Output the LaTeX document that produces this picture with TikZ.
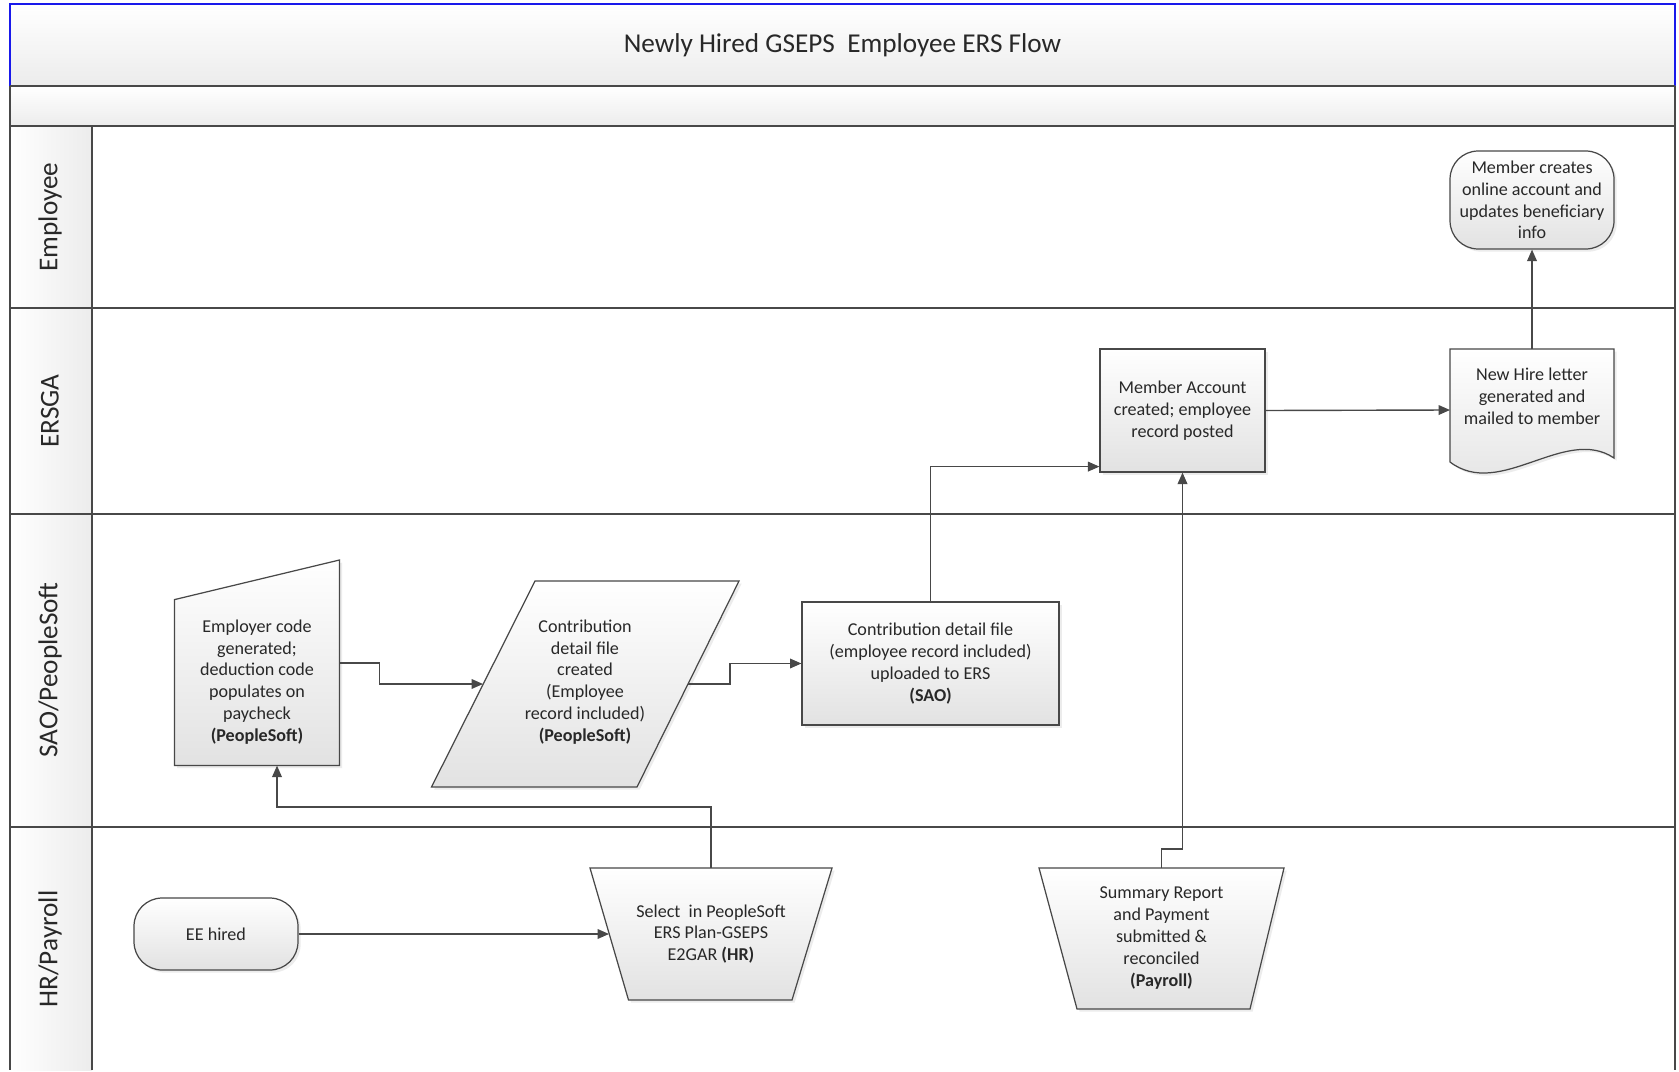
\documentclass[tikz,border=0pt]{standalone}
\usepackage{fontspec}
\setmainfont{Carlito}
\usepackage{tikz}
\usetikzlibrary{arrows.meta}
\usetikzlibrary{calc}
\usetikzlibrary{shadows}

\definecolor{linegray}{RGB}{72,72,72}
\definecolor{boxgray}{RGB}{226,226,226}
\definecolor{bandgray}{RGB}{236,236,236}
\definecolor{titleblue}{RGB}{25,25,235}
\definecolor{textgray}{RGB}{40,40,40}

\newcommand{\boxfont}{\fontsize{10.3}{12.4}\selectfont}
\newcommand{\lanefont}{\fontsize{15.5}{18}\selectfont}

\begin{document}
\begin{tikzpicture}[x=0.02cm, y=-0.02cm,
    lane/.style={draw=linegray, line width=0.7pt},
    flow/.style={draw=linegray, line width=0.7pt, top color=white,
      bottom color=boxgray,
      drop shadow={opacity=0.15, shadow xshift=1.5pt, shadow yshift=-1.5pt}},
    txt/.style={align=center, text=textgray, font=\boxfont, inner sep=0pt},
    conn/.style={draw=linegray, line width=0.8pt,
      -{Triangle[length=6.5pt, width=5.5pt]}}]

  \useasboundingbox (0,0) rectangle (1679,1071);

  % title and bands
  \path [fill=white] (0,0) rectangle (1679,1071);
  \shade [top color=white, bottom color=bandgray] (10,4) rectangle (1675,86);
  \draw [titleblue, line width=0.7pt] (10,86) -- (10,4) -- (1675,4) -- (1675,86);
  \node [text=textgray, font=\fontsize{15.5}{18}\selectfont] (title) at (842.5,45)
    {Newly Hired GSEPS\ \ Employee ERS Flow};
  \shade [top color=white, bottom color=bandgray] (10,86) rectangle (1675,126);
  \shade [left color=white, right color=bandgray] (10,126) rectangle (92,1070);

  % lanes
  \draw [linegray, line width=1.1pt] (10,86) -- (1675,86);
  \draw [linegray, line width=1.1pt] (10,126) -- (1675,126);
  \foreach \y in {308,514,827}
    \draw [lane] (10,\y) -- (1675,\y);
  \draw [lane] (92,126) -- (92,1070);
  \draw [lane] (10,86) -- (10,1070);
  \draw [linegray, line width=1.1pt] (1675,86) -- (1675,1070);

  \node [rotate=90, text=textgray, font=\lanefont] (lemp) at (50,217) {Employee};
  \node [rotate=90, text=textgray, font=\lanefont] (lersga) at (50,411) {ERSGA};
  \node [rotate=90, text=textgray, font=\lanefont] (lsao) at (50,670) {SAO/PeopleSoft};
  \node [rotate=90, text=textgray, font=\lanefont] (lhr) at (50,949) {HR/Payroll};

  % Employee
  \node [flow, txt, rounded corners=16pt, minimum width=3.28cm, minimum height=1.96cm]
    (online) at (1532,200)
    {Member creates\\online account and\\updates beneficiary\\info};

  % ERSGA
  \node [flow, txt, minimum width=3.3cm, minimum height=2.46cm] (acct) at (1182.5,410.5)
    {Member Account\\created; employee\\record posted};

  \path [flow] (1450,349) -- (1614,349) -- (1614,458)
    .. controls (1565,425) and (1500,500) .. (1450,462) -- cycle;
  \node [txt] (letter) at (1532,396)
    {New Hire letter\\generated and\\mailed to member};
  \coordinate (letter-w) at (1450,410);
  \coordinate (letter-n) at (1532,349);

  % SAO/PeopleSoft
  \path [flow] (174.5,599.6) -- (339.5,560) -- (339.5,765.6) -- (174.5,765.6) -- cycle;
  \node [txt] (empcode) at (257,682)
    {Employer code\\generated;\\deduction code\\populates on\\paycheck\\\textbf{(PeopleSoft)}};
  \coordinate (empcode-e) at (339.5,663);
  \coordinate (empcode-s) at (277,765.6);

  \path [flow] (535,581) -- (739,581) -- (637,787) -- (431.5,787) -- cycle;
  \node [txt] (created) at (585,682)
    {Contribution\\detail file\\created\\(Employee\\record included)\\\textbf{(PeopleSoft)}};
  \coordinate (created-w) at (483,684);
  \coordinate (created-e) at (688,684);

  \node [flow, txt, minimum width=5.14cm, minimum height=2.46cm] (upload) at (930.5,663.5)
    {Contribution detail file\\(employee record included)\\uploaded to ERS\\\textbf{(SAO)}};

  % HR/Payroll
  \node [flow, txt, rounded corners=16pt, minimum width=3.28cm, minimum height=1.44cm]
    (hired) at (216,934) {EE hired};

  \path [flow] (590,868) -- (832,868) -- (792,1000) -- (628.5,1000) -- cycle;
  \node [txt] (select) at (711,934)
    {Select\ \ in PeopleSoft\\ERS Plan-GSEPS\\E2GAR \textbf{(HR)}};
  \coordinate (select-w) at (609,934);
  \coordinate (select-n) at (711,868);

  \path [flow] (1039,868) -- (1284,868) -- (1250,1009) -- (1077,1009) -- cycle;
  \node [txt] (summary) at (1161.5,938)
    {Summary Report\\and Payment\\submitted \&\\reconciled\\\textbf{(Payroll)}};
  \coordinate (summary-n) at (1161.5,868);

  % connectors
  \draw [conn] (hired.east) -- (select-w);
  \draw [conn] (select-n) -- ++(0,-61) -| (empcode-s);
  \draw [conn] (empcode-e) -- ++(40,0) |- (created-w);
  \draw [conn] (created-e) -- ++(42,0) |- (upload.west);
  \draw [conn] (upload.north) |- ($(acct.south west)+(0,-6)$);
  \draw [conn] (summary-n) -- ++(0,-19) -| (acct.south);
  \draw [conn] (acct.east) -- (letter-w);
  \draw [conn] (letter-n) -- (online.south);

\end{tikzpicture}
\end{document}
